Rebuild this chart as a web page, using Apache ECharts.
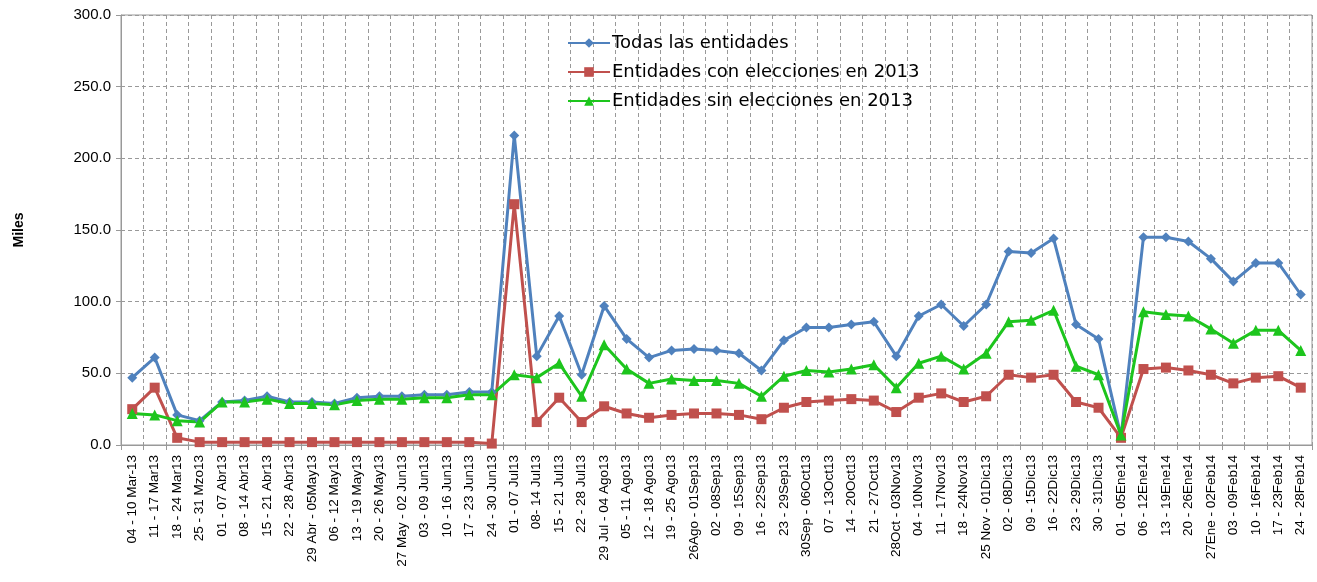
<!DOCTYPE html>
<html>
<head>
<meta charset="utf-8">
<title>Miles</title>
<script src="https://cdn.jsdelivr.net/npm/echarts@6/dist/echarts.min.js"></script>
<style>
    html, body { margin: 0; padding: 0; background: #fff; }
    #main { width: 1317px; height: 582px; }
</style>
</head>
<body>
<div id="main"></div>
<script>
var semanas = ['04 - 10 Mar-13', '11 - 17 Mar13', '18 - 24 Mar13', '25 - 31 Mzo13', '01 - 07 Abr13',
    '08 - 14 Abr13', '15 - 21 Abr13', '22 - 28 Abr13', '29 Abr - 05May13', '06 - 12 May13',
    '13 - 19 May13', '20 - 26 May13', '27 May - 02 Jun13', '03 - 09 Jun13', '10 - 16 Jun13',
    '17 - 23 Jun13', '24 - 30 Jun13', '01 - 07 Jul13', '08- 14 Jul13', '15 - 21 Jul13',
    '22 - 28 Jul13', '29 Jul - 04 Ago13', '05 - 11 Ago13', '12 - 18 Ago13', '19 - 25 Ago13',
    '26Ago - 01Sep13', '02 - 08Sep13', '09 - 15Sep13', '16 - 22Sep13', '23 - 29Sep13',
    '30Sep - 06Oct13', '07 - 13Oct13', '14 - 20Oct13', '21 - 27Oct13', '28Oct - 03Nov13',
    '04 - 10Nov13', '11 - 17Nov13', '18 - 24Nov13', '25 Nov - 01Dic13', '02 - 08Dic13',
    '09 - 15Dic13', '16 - 22Dic13', '23 - 29Dic13', '30 - 31Dic13', '01 - 05Ene14',
    '06 - 12Ene14', '13 - 19Ene14', '20 - 26Ene14', '27Ene - 02Feb14', '03 - 09Feb14',
    '10 - 16Feb14', '17 - 23Feb14', '24 - 28Feb14'];

var todas = [47, 61, 21, 17, 30, 31, 34, 30, 30, 29,
    33, 34, 34, 35, 35, 37, 37, 216, 62, 90,
    49, 97, 74, 61, 66, 67, 66, 64, 52, 73,
    82, 82, 84, 86, 62, 90, 98, 83, 98, 135,
    134, 144, 84, 74, 6, 145, 145, 142, 130, 114,
    127, 127, 105];

var conElecciones = [25, 40, 5, 2, 2, 2, 2, 2, 2, 2,
    2, 2, 2, 2, 2, 2, 1, 168, 16, 33,
    16, 27, 22, 19, 21, 22, 22, 21, 18, 26,
    30, 31, 32, 31, 23, 33, 36, 30, 34, 49,
    47, 49, 30, 26, 5, 53, 54, 52, 49, 43,
    47, 48, 40];

var sinElecciones = [22, 21, 17, 16, 30, 30, 32, 29, 29, 28,
    31, 32, 32, 33, 33, 35, 35, 49, 47, 57,
    34, 70, 53, 43, 46, 45, 45, 43, 34, 48,
    52, 51, 53, 56, 40, 57, 62, 53, 64, 86,
    87, 94, 55, 49, 7, 93, 91, 90, 81, 71,
    80, 80, 66];

var myChart = echarts.init(document.getElementById('main'));

function serie(nombre, datos, color, simbolo, tam) {
    return {
        name: nombre,
        type: 'line',
        data: datos,
        symbol: simbolo,
        symbolSize: tam,
        showAllSymbol: true,
        lineStyle: { color: color, width: 3 },
        itemStyle: { color: color },
        animation: false
    };
}

myChart.setOption({
    textStyle: { fontFamily: 'DejaVu Sans' },
    grid: {
        left: 121,
        right: 5,
        top: 15,
        bottom: 137,
        show: true,
        borderColor: '#999',
        borderWidth: 1
    },
    legend: {
        orient: 'vertical',
        left: 562,
        top: 29,
        itemWidth: 42,
        itemHeight: 12,
        itemGap: 11,
        textStyle: { fontSize: 18, color: '#000', fontFamily: 'DejaVu Sans', padding: [0, 0, 0, -3] },
        data: ['Todas las entidades', 'Entidades con elecciones en 2013', 'Entidades sin elecciones en 2013']
    },
    xAxis: {
        type: 'category',
        data: semanas,
        boundaryGap: true,
        axisLine: { lineStyle: { color: '#999' } },
        axisTick: { show: true, alignWithLabel: false, lineStyle: { color: '#999' } },
        axisLabel: {
            interval: 0,
            rotate: 90,
            margin: 10,
            fontSize: 13.5,
            color: '#000',
            fontFamily: 'Liberation Sans'
        },
        splitLine: {
            show: true,
            interval: 0,
            lineStyle: { color: '#999', type: [4, 3] }
        }
    },
    yAxis: {
        type: 'value',
        min: 0,
        max: 300,
        interval: 50,
        name: 'Miles',
        nameLocation: 'middle',
        nameGap: 95,
        nameTextStyle: { fontWeight: 'bold', fontSize: 14, color: '#000', fontFamily: 'Liberation Sans' },
        axisLine: { show: true, lineStyle: { color: '#999' } },
        axisTick: { show: true, length: 5, lineStyle: { color: '#999' } },
        axisLabel: {
            fontSize: 15,
            color: '#000',
            margin: 10,
            fontFamily: 'Liberation Sans',
            formatter: function (v) { return v.toFixed(1); }
        },
        splitLine: { lineStyle: { color: '#999', type: [4, 3] } }
    },
    series: [
        serie('Todas las entidades', todas, '#4F81BD', 'diamond', 10),
        serie('Entidades con elecciones en 2013', conElecciones, '#C0504D', 'rect', 10),
        serie('Entidades sin elecciones en 2013', sinElecciones, '#1DC51D', 'triangle', 11)
    ]
});
</script>
</body>
</html>
